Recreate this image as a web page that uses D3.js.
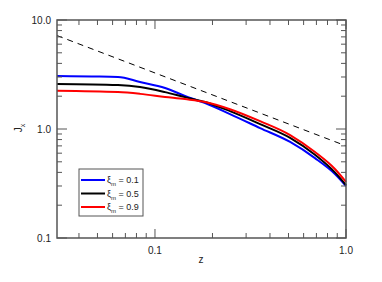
<!DOCTYPE html>
<html><head><meta charset="utf-8">
<script src="https://cdn.jsdelivr.net/npm/d3@7"></script>
<style>body{margin:0;background:#fff}svg{display:block}text{font-family:"Liberation Sans",Arial,sans-serif}</style>
</head><body><svg id="c" width="382" height="282"></svg>
<script>
const zBlue = [0.0307,0.0468,0.064,0.0835,0.113,0.1435,0.183,0.247,0.355,0.51,0.688,0.875,1.0];
const jBlue = [3.06,3.03,3.0,2.70,2.38,2.01,1.73,1.37,1.02,0.76,0.54,0.386,0.30];
const zBlack = [0.0307,0.064,0.0835,0.113,0.1435,0.183,0.247,0.355,0.51,0.688,0.875,1.0];
const jBlack = [2.59,2.53,2.43,2.18,1.96,1.77,1.46,1.11,0.83,0.58,0.40,0.306];
const zRed = [0.0307,0.064,0.0835,0.113,0.1435,0.183,0.247,0.355,0.51,0.688,0.875,1.0];
const jRed = [2.24,2.18,2.10,1.97,1.88,1.77,1.52,1.18,0.88,0.615,0.43,0.327];
const zDash = [0.0307,1.0];
const jDash = [7.2,0.7];
const legendLabels = ["0.1","0.5","0.9"];
const xTickLabels = [0.1,1.0];
const yTickLabels = [0.1,1.0,10.0];

const svg = d3.select("#c");
const L=57,R=346,T=20,B=238;
const x = d3.scaleLog().domain([0.0307,1.0]).range([L,R]);
const y = d3.scaleLog().domain([0.1,10]).range([B,T]);
const axisColor="#555";

const series=[
 {z:zBlue,j:jBlue,color:"#0000ff"},
 {z:zBlack,j:jBlack,color:"#000000"},
 {z:zRed,j:jRed,color:"#ff0000"}];
const line=d3.line().x(d=>x(d[0])).y(d=>y(d[1])).curve(d3.curveMonotoneX);

svg.append("path").datum(d3.zip(zDash,jDash)).attr("d",line).attr("fill","none")
 .attr("stroke","#000").attr("stroke-width",1).attr("stroke-dasharray","6,5");
series.forEach(s=>{
 svg.append("path").datum(d3.zip(s.z,s.j)).attr("d",line).attr("fill","none")
  .attr("stroke",s.color).attr("stroke-width",2);
});

// frame
svg.append("rect").attr("x",L).attr("y",T).attr("width",R-L).attr("height",B-T)
 .attr("fill","none").attr("stroke",axisColor).attr("stroke-width",1.5);

// ticks
const xMinor=[0.04,0.05,0.06,0.07,0.08,0.09,0.2,0.3,0.4,0.5,0.6,0.7,0.8,0.9];
const xMajor=[0.1,1.0];
const yMinor=[0.2,0.3,0.4,0.5,0.6,0.7,0.8,0.9,2,3,4,5,6,7,8,9];
const yMajor=[0.1,1,10];
const g=svg.append("g").attr("stroke",axisColor).attr("stroke-width",1);
xMinor.forEach(v=>{const px=x(v);
 g.append("line").attr("x1",px).attr("x2",px).attr("y1",B).attr("y2",B-5);
 g.append("line").attr("x1",px).attr("x2",px).attr("y1",T).attr("y2",T+5);});
xMajor.forEach(v=>{const px=x(v);
 g.append("line").attr("x1",px).attr("x2",px).attr("y1",B).attr("y2",B-9);
 g.append("line").attr("x1",px).attr("x2",px).attr("y1",T).attr("y2",T+9);});
yMinor.forEach(v=>{const py=y(v);
 g.append("line").attr("x1",L).attr("x2",L+5).attr("y1",py).attr("y2",py);
 g.append("line").attr("x1",R).attr("x2",R-5).attr("y1",py).attr("y2",py);});
yMajor.forEach(v=>{const py=y(v);
 g.append("line").attr("x1",L).attr("x2",L+10).attr("y1",py).attr("y2",py);
 g.append("line").attr("x1",R).attr("x2",R-10).attr("y1",py).attr("y2",py);});

// tick labels
xTickLabels.forEach(v=>svg.append("text").attr("x",x(v)).attr("y",B+16)
 .attr("text-anchor","middle").attr("font-size",10).attr("fill","#222").text(v.toFixed(1)));
yTickLabels.forEach(v=>svg.append("text").attr("x",L-6).attr("y",y(v)+4)
 .attr("text-anchor","end").attr("font-size",10).attr("fill","#222").text(v.toFixed(1)));

// axis labels
svg.append("text").attr("x",x(0.1)+46).attr("y",263).attr("text-anchor","middle")
 .attr("font-size",10).attr("fill","#222").text("z");
const yl=svg.append("text").attr("transform","translate(22,128) rotate(-90)")
 .attr("text-anchor","middle").attr("font-size",10).attr("fill","#222");
yl.append("tspan").text("J");
yl.append("tspan").attr("font-size",7).attr("dy",3).text("x");

// legend
const lg=svg.append("g");
lg.append("rect").attr("x",79).attr("y",169).attr("width",64).attr("height",47)
 .attr("fill","#fff").attr("stroke",axisColor).attr("stroke-width",1);
series.forEach((s,i)=>{
 const ly=180+i*13.5;
 lg.append("line").attr("x1",81).attr("x2",105).attr("y1",ly).attr("y2",ly)
  .attr("stroke",s.color).attr("stroke-width",2);
 const t=lg.append("text").attr("x",107).attr("y",ly+3).attr("font-size",9).attr("fill","#222");
 t.append("tspan").text("ξ");
 t.append("tspan").attr("font-size",6).attr("dy",3).text("m");
 t.append("tspan").attr("dy",-3).text(" = "+legendLabels[i]);
});
</script></body></html>
